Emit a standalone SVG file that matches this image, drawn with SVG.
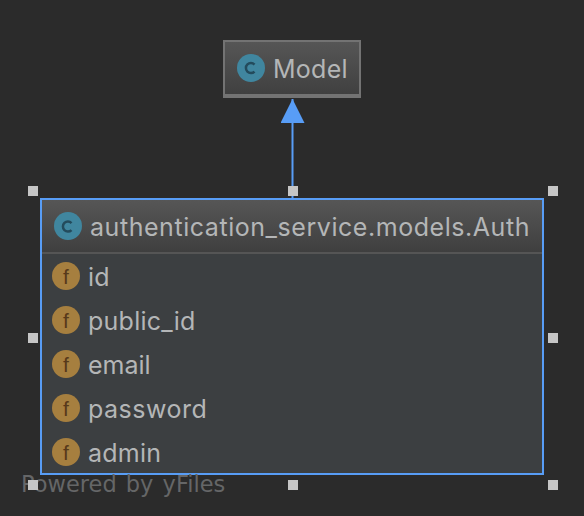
<svg xmlns="http://www.w3.org/2000/svg" width="584" height="516" viewBox="0 0 584 516">
<style>
.t{font-family:"Inter","Liberation Sans",sans-serif;font-size:25px;fill:#b4b6b7;letter-spacing:.25px}
.h{fill:#c6c6c6}
.ci{fill:#40869f}
.fi{fill:#a67f3f}
.gl{font-family:"Liberation Sans",sans-serif;font-size:21px;text-anchor:middle;fill:#57391a}
.cg{fill:none;stroke:#234b5c;stroke-width:2.500}
</style>
<defs>
<linearGradient id="g" x1="0" y1="0" x2="0" y2="1"><stop offset="0" stop-color="#565656"/><stop offset="1" stop-color="#3f3f3f"/></linearGradient>
<marker id="a" markerUnits="userSpaceOnUse" markerWidth="24" markerHeight="24" refX="24" refY="12" orient="auto"><path d="M0 0L24 12L0 24Z" fill="#589df6"/></marker>
</defs>
<rect width="584" height="516" fill="#2b2b2b"/>
<g id="connectors"><line x1="292.500" y1="198" x2="292.500" y2="99" stroke="#589df6" stroke-width="2" marker-end="url(#a)"/></g>
<g id="node-model">
<rect x="224" y="41" width="136" height="56" fill="url(#g)" stroke="#737373" stroke-width="2"/>
<rect x="224" y="94" width="136" height="3" fill="#737373"/>
<circle cx="251" cy="68" r="14" class="ci"/>
<path d="M254.500 64.500A5 5 0 1 0 254.500 71.500" class="cg"/>
<text x="273" y="78" class="t">Model</text>
</g>
<g id="node-auth">
<rect x="41" y="199" width="502" height="275" fill="#3c3f41" stroke="#589df6" stroke-width="2"/>
<rect x="42" y="200" width="500" height="52" fill="url(#g)"/>
<rect x="42" y="252" width="500" height="2" fill="#555"/>
<circle cx="68" cy="226" r="14" class="ci"/>
<path d="M71.500 223A5 5 0 1 0 71.500 230" class="cg"/>
<text x="90" y="236" class="t" style="letter-spacing:.55px">authentication_service.models.Auth</text>
<circle cx="66" cy="276" r="14" class="fi"/><text x="66" y="284" class="gl">f</text><text x="88" y="286" class="t">id</text>
<circle cx="66" cy="320" r="14" class="fi"/><text x="66" y="328" class="gl">f</text><text x="88" y="330" class="t">public_id</text>
<circle cx="66" cy="364" r="14" class="fi"/><text x="66" y="372" class="gl">f</text><text x="88" y="374" class="t" style="letter-spacing:0">email</text>
<circle cx="66" cy="408" r="14" class="fi"/><text x="66" y="416" class="gl">f</text><text x="88" y="418" class="t" style="letter-spacing:.5px">password</text>
<circle cx="66" cy="452" r="14" class="fi"/><text x="66" y="460" class="gl">f</text><text x="88" y="462" class="t">admin</text>
</g>
<text x="21" y="492" font-family="DejaVu Sans, sans-serif" font-size="22.500" fill="#656667" style="word-spacing:2px">Powered by yFiles</text>
<g id="handles">
<rect class="h" x="28" y="186" width="10" height="10"/><rect class="h" x="288" y="186" width="10" height="10"/><rect class="h" x="548" y="186" width="10" height="10"/>
<rect class="h" x="28" y="333" width="10" height="10"/><rect class="h" x="548" y="333" width="10" height="10"/>
<rect class="h" x="28" y="480" width="10" height="10"/><rect class="h" x="288" y="480" width="10" height="10"/><rect class="h" x="548" y="480" width="10" height="10"/>
</g>
</svg>
